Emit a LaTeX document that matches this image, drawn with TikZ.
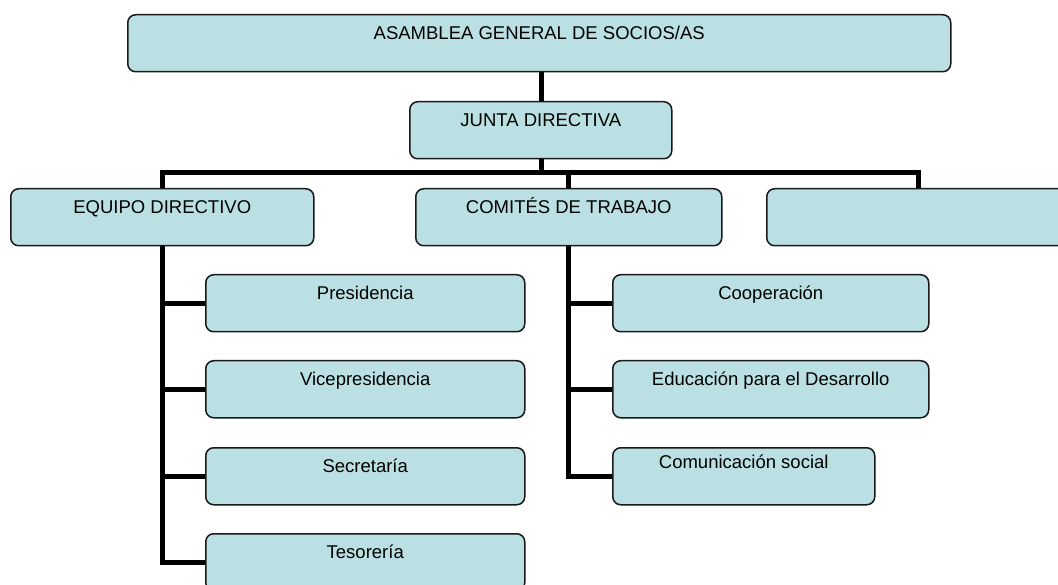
\documentclass[tikz,border=0pt]{standalone}
\usepackage{fontspec}
\setmainfont{Liberation Sans}
\definecolor{boxfill}{RGB}{186,224,227}
\begin{document}
\begin{tikzpicture}[x=1pt,y=-1pt,
  orgbox/.style={draw=black!90, line width=1.5pt, rounded corners=8pt, fill=boxfill,
    inner sep=0pt, anchor=north west, text height=25pt, text depth=32pt,
    font=\fontsize{18.5}{22}\selectfont},
  conn/.style={line width=5pt, line join=miter, draw=black}]
\useasboundingbox (0,0) rectangle (1058,585);
\clip (0,0) rectangle (1058,585);
% level 0 and 1
\node[orgbox, minimum width=823pt] (asm) at (127,14) {ASAMBLEA GENERAL DE SOCIOS/AS};
\node[orgbox, minimum width=262pt] (jd) at (409,101) {JUNTA DIRECTIVA};
% level 2
\node[orgbox, minimum width=303pt] (eq) at (10,188) {EQUIPO DIRECTIVO};
\node[orgbox, minimum width=306pt] (ct) at (415,188) {COMITÉS DE TRABAJO};
\node[orgbox, minimum width=304pt] (tb) at (766,188) {};
% left children
\node[orgbox, minimum width=319pt] (pres) at (205,274) {Presidencia};
\node[orgbox, minimum width=319pt] (vice) at (205,360) {Vicepresidencia};
\node[orgbox, minimum width=319pt] (secr) at (205,447) {Secretaría};
\node[orgbox, minimum width=319pt] (teso) at (205,533) {Tesorería};
% right children
\node[orgbox, minimum width=316pt] (coop) at (612,274) {Cooperación};
\node[orgbox, minimum width=316pt] (educ) at (612,360) {Educación para el Desarrollo};
\node[orgbox, minimum width=262pt, text height=21pt, text depth=36pt] (comu) at (612,447) {Comunicación social};
% connectors
\coordinate (bar) at (541,173);
\draw[conn] (asm.south -| bar) -- (jd.north -| bar);
\draw[conn] (jd.south -| bar) -- (bar);
\draw[conn] (eq.north) |- (bar) -| (tb.north);
\draw[conn] (bar) -| (ct.north);
\draw[conn] (eq.south) |- (teso.west);
\draw[conn] (pres.west) -- (pres.west -| eq.south);
\draw[conn] (vice.west) -- (vice.west -| eq.south);
\draw[conn] (secr.west) -- (secr.west -| eq.south);
\draw[conn] (ct.south) |- (comu.west);
\draw[conn] (coop.west) -- (coop.west -| ct.south);
\draw[conn] (educ.west) -- (educ.west -| ct.south);
\end{tikzpicture}
\end{document}
